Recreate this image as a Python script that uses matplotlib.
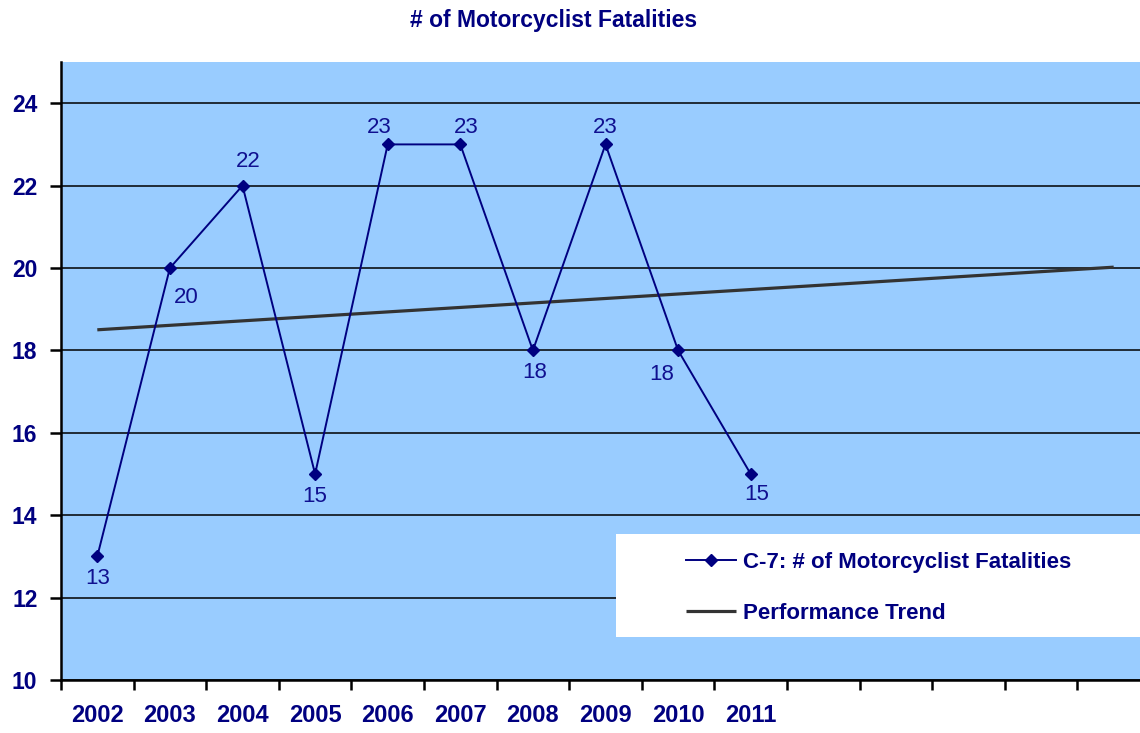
import numpy as np
import matplotlib
matplotlib.use('Agg')
import matplotlib.pyplot as plt
from matplotlib.patches import Rectangle

plt.rcParams['font.family'] = ['Liberation Sans', 'DejaVu Sans']

# data
years = [2002, 2003, 2004, 2005, 2006, 2007, 2008, 2009, 2010, 2011]
fatalities = [13, 20, 22, 15, 23, 23, 18, 23, 18, 15]
n_categories = 15
trend_pos = [1, 15]
trend_values = [18.5, 20.02]
tick_labels = [str(y) for y in years] + [''] * (n_categories - len(years))

# label offsets (points) for each data label
label_offsets = [(0, -16), (12, -21), (4, 17), (0, -16), (-6, 12),
                 (4, 12), (1, -16), (0, 12), (-12, -17), (4, -15)]

navy = '#000080'
bg = '#99CCFF'

fig = plt.figure(figsize=(11.4, 7.33), dpi=100)
ax = fig.add_axes([61 / 1140, 1 - 680 / 733, 1 - 61 / 1140, (680 - 62) / 733])
ax.set_facecolor(bg)

x = np.arange(1, len(years) + 1)
ax.plot(trend_pos, trend_values, color='#333333', lw=2.3, zorder=3,
        label='Performance Trend', solid_capstyle='butt')
ax.plot(x, fatalities, color=navy, lw=1.4, marker='D', markersize=6,
        zorder=4, label='C-7: # of Motorcyclist Fatalities')

for xi, v, off in zip(x, fatalities, label_offsets):
    ax.annotate(str(v), (xi, v), xytext=off, textcoords='offset points',
                ha='center', va='center', fontsize=16, color='#101090')

ax.set_ylim(10, 25)
ax.set_xlim(0.5, 0.5 + (1140 - 61) / 72.6)
ax.set_yticks(np.arange(10, 25, 2))
ax.yaxis.grid(True, color='black', lw=1.1, zorder=1)
ax.set_axisbelow(True)

ax.set_xticks(np.arange(1, n_categories + 1))
ax.set_xticklabels(tick_labels)
ax.set_xticks(np.arange(0.5, n_categories + 0.5, 1), minor=True)
ax.tick_params(axis='x', which='major', length=0, pad=17,
               labelsize=17, labelcolor=navy)
ax.tick_params(axis='x', which='minor', length=7, width=1.8,
               direction='out', color='black')
ax.tick_params(axis='y', length=8, width=1.8, direction='out', pad=9,
               labelsize=16.5, labelcolor=navy)
for lab in ax.get_xticklabels() + ax.get_yticklabels():
    lab.set_fontweight('bold')

ax.spines['top'].set_visible(False)
ax.spines['right'].set_visible(False)
ax.spines['left'].set_linewidth(1.8)
ax.spines['bottom'].set_linewidth(1.8)

# white legend box
box_x0 = (616 - 61) / 1079
box_y0 = (680 - 637) / 618
box_h = (637 - 534) / 618
ax.add_patch(Rectangle((box_x0, box_y0), 1 - box_x0 + 0.01, box_h,
                       transform=ax.transAxes, facecolor='white',
                       edgecolor='none', zorder=2))

handles, labels = ax.get_legend_handles_labels()
leg = ax.legend(handles[::-1], labels[::-1], loc='upper left',
                bbox_to_anchor=((686 - 61) / 1079, (680 - 552) / 618),
                frameon=False, borderpad=0, borderaxespad=0,
                handlelength=2.25, handletextpad=0.3, labelspacing=1.35,
                prop={'size': 16, 'weight': 'bold'})
for t in leg.get_texts():
    t.set_color(navy)
leg.set_zorder(5)

fig.text(0.486, 1 - 21 / 733, '# of Motorcyclist Fatalities', ha='center',
         va='center', fontsize=16.5, fontweight='bold', color=navy)

fig.savefig('out.png', dpi=100)
